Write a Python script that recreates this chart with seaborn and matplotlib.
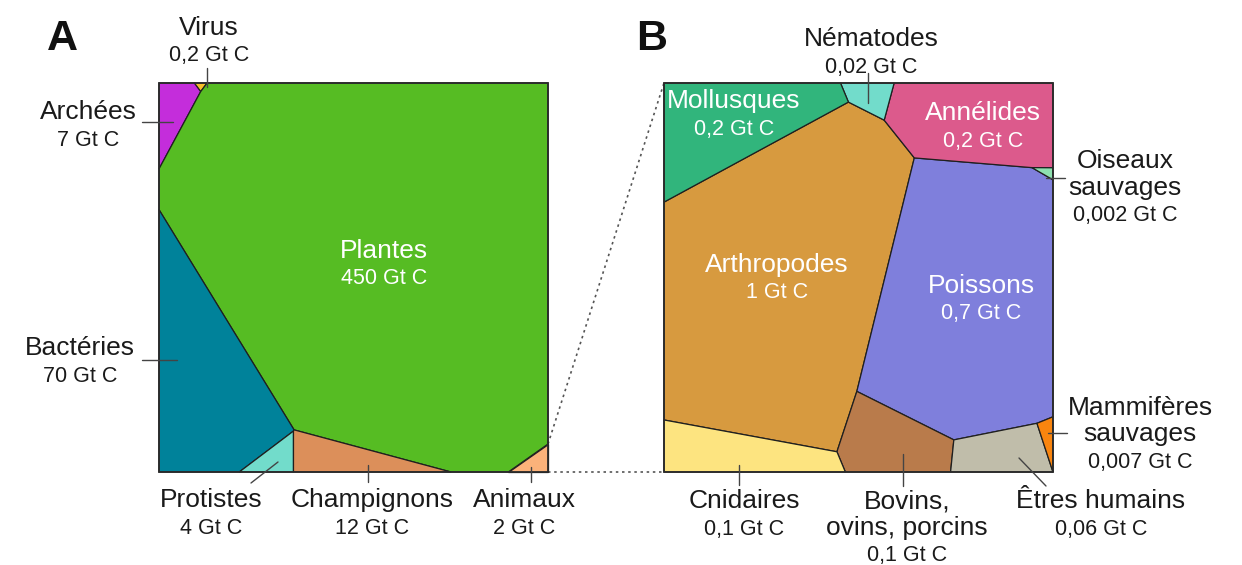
import numpy as np
import matplotlib
matplotlib.use("Agg")
import matplotlib.pyplot as plt
import seaborn as sns

# A : biomasse des règnes (Gt C)
names_a = ["Virus", "Archées", "Plantes", "Bactéries", "Protistes", "Champignons", "Animaux"]
values_a = [0.2, 7, 450, 70, 4, 12, 2]

# B : détail des animaux (Gt C)
names_b = ["Arthropodes", "Poissons", "Annélides", "Nématodes", "Mollusques",
           "Oiseaux\nsauvages", "Bovins,\novins, porcins", "Cnidaires",
           "Êtres humains", "Mammifères\nsauvages"]
values_b = [1, 0.7, 0.2, 0.02, 0.2, 0.002, 0.1, 0.1, 0.06, 0.007]

colors_a = ["#f7c02a", "#c42ddb", "#56bc23", "#00829a", "#72dccb", "#dc8f5a", "#fbb27a"]
colors_b = ["#d79a3f", "#7f7fdc", "#dc5a8c", "#72dccb", "#31b57c",
            "#8ee0b0", "#b97b4b", "#fde480", "#c0bdaa", "#f9850f"]

# germes du diagramme de puissance (fraction du carré, y vers le bas)
seeds_a = [(0.118, 0.103), (0.039, 0.162), (0.607, 0.468), (0.100, 0.779),
           (0.242, 0.967), (0.473, 0.967), (0.964, 0.974)]
seeds_b = [(0.2853, 0.5064), (0.7866, 0.6298), (0.8329, 0.0694), (0.5450, -0.0077),
           (0.1054, 0.1748), (0.8290, 0.5566), (0.7686, 0.6658), (0.2134, 0.8972),
           (0.7943, 0.6684), (0.8013, 0.6661)]

# position des étiquettes : (x, ligne de base, blanc?, trait)
labels_a = [(209, 35, False, ((206.5, 68), (206.5, 87))),
            (88, 119, False, ((142, 122), (173, 122))),
            (384, 258, True, None),
            (80, 355, False, ((142, 360), (177, 360))),
            (211, 507, False, ((251, 483), (278, 462))),
            (372, 507, False, ((368, 465), (368, 482))),
            (524, 507, False, ((531, 467), (531, 482)))]
labels_b = [(777, 272, True, None),
            (981, 293, True, None),
            (983, 120, True, None),
            (871, 46, False, ((868, 73), (868, 103))),
            (734, 108, True, None),
            (1125, 168, False, ((1046, 178), (1065, 178))),
            (907, 508, False, ((903, 454), (903, 486))),
            (744, 508, False, ((739, 465), (739, 485))),
            (1101, 508, False, ((1019, 458), (1046, 486))),
            (1140, 415, False, ((1048, 433), (1067, 433)))]


def clip(poly, labs, a, b, lab):
    out, outl = [], []
    n = len(poly)
    for k in range(n):
        p = poly[k]
        q = poly[(k + 1) % n]
        fp = a[0] * p[0] + a[1] * p[1] - b
        fq = a[0] * q[0] + a[1] * q[1] - b
        if fp <= 0:
            out.append(p)
            outl.append(labs[k])
            if fq > 0:
                t = fp / (fp - fq)
                out.append((p[0] + t * (q[0] - p[0]), p[1] + t * (q[1] - p[1])))
                outl.append(lab)
        elif fq <= 0:
            t = fp / (fp - fq)
            out.append((p[0] + t * (q[0] - p[0]), p[1] + t * (q[1] - p[1])))
            outl.append(labs[k])
    return out, outl


def power_cells(s, w):
    cells = []
    for i in range(len(s)):
        poly = [(0.0, 0.0), (1.0, 0.0), (1.0, 1.0), (0.0, 1.0)]
        labs = [-1] * 4
        for j in range(len(s)):
            if j == i or not poly:
                continue
            a = 2 * (s[j] - s[i])
            b = s[j] @ s[j] - s[i] @ s[i] - w[j] + w[i]
            poly, labs = clip(poly, labs, a, b, j)
        cells.append((poly, labs))
    return cells


def areas(cells):
    res = []
    for poly, _ in cells:
        if len(poly) < 3:
            res.append(0.0)
            continue
        p = np.array(poly)
        x, y = p[:, 0], p[:, 1]
        res.append(0.5 * abs(np.dot(x, np.roll(y, -1)) - np.dot(y, np.roll(x, -1))))
    return np.array(res)


def hessian(cells, s):
    n = len(s)
    H = np.zeros((n, n))
    for i, (poly, labs) in enumerate(cells):
        for k in range(len(poly)):
            j = labs[k]
            if j < 0:
                continue
            p, q = np.array(poly[k]), np.array(poly[(k + 1) % len(poly)])
            c = np.linalg.norm(q - p) / (2 * np.linalg.norm(s[i] - s[j]))
            H[i, j] -= c
            H[i, i] += c
    return H


def treemap(seeds, values):
    s = np.array(seeds, dtype=float)
    target = np.array(values, dtype=float) / sum(values)
    w = np.zeros(len(s))
    cells = power_cells(s, w)
    area = areas(cells)
    for _ in range(200):
        err = target - area
        if np.abs(err).max() < 1e-11:
            break
        H = hessian(cells, s)
        dw = np.zeros(len(s))
        dw[1:] = np.linalg.lstsq(H[1:, 1:], err[1:], rcond=None)[0]
        alpha = 1.0
        while alpha > 1e-8:
            w_new = w + alpha * dw
            c_new = power_cells(s, w_new)
            a_new = areas(c_new)
            if a_new.min() > 0.5 * target.min() and \
                    np.abs(target - a_new).sum() < np.abs(err).sum() * (1 - alpha / 4):
                break
            alpha /= 2
        w, cells, area = w_new, c_new, a_new
    print(np.abs(target - area).max())
    return cells


def fmt(v):
    return f"{v:g}".replace(".", ",") + " Gt C"


sns.set_theme(style="white")
plt.rcParams["font.family"] = ["Liberation Sans", "DejaVu Sans"]

fig = plt.figure(figsize=(12.42, 5.65), dpi=100)
ax = fig.add_axes([0, 0, 1, 1])
ax.set_xlim(0, 1242)
ax.set_ylim(565, 0)
ax.axis("off")

panels = [(159, 83, names_a, values_a, colors_a, seeds_a, labels_a),
          (664, 83, names_b, values_b, colors_b, seeds_b, labels_b)]
size = 389
all_cells = []
for x0, y0, names, values, colors, seeds, labels in panels:
    cells = treemap(seeds, values)
    all_cells.append(cells)
    for (poly, _), col in zip(cells, colors):
        p = np.array(poly)
        ax.fill(x0 + p[:, 0] * size, y0 + p[:, 1] * size, facecolor=col,
                edgecolor="#1f1f1f", linewidth=0.9, zorder=2)
    ax.add_patch(plt.Rectangle((x0, y0), size, size, fill=False,
                               edgecolor="#2a2a2a", linewidth=1.3, zorder=3))
    for name, v, (lx, base, white, lead) in zip(names, values, labels):
        col = "white" if white else "#1a1a1a"
        lines = name.split("\n")
        for k, line in enumerate(lines):
            ax.text(lx, base + 26.5 * k, line, ha="center", va="baseline",
                    fontsize=19, color=col, zorder=5)
        ax.text(lx, base + 26.5 * len(lines), fmt(v), ha="center", va="baseline",
                fontsize=15.5, color=col, zorder=5)
        if lead is not None:
            ax.plot([lead[0][0], lead[1][0]], [lead[0][1], lead[1][1]],
                    color="#444444", linewidth=1.0, zorder=4)

# lignes pointillées entre la cellule Animaux et le panneau B
anim = np.array(all_cells[0][names_a.index("Animaux")][0])
right = anim[anim[:, 0] > 0.999]
top_v = right[:, 1].min()
xa, ya = panels[0][0], panels[0][1]
xb, yb = panels[1][0], panels[1][1]
ax.plot([xa + size, xb], [ya + top_v * size, yb], color="#555555",
        linestyle=(0, (1.5, 2.2)), linewidth=1.2, zorder=1)
ax.plot([xa + size, xb], [ya + size, yb + size], color="#555555",
        linestyle=(0, (1.5, 2.2)), linewidth=1.2, zorder=1)

ax.text(47, 50, "A", fontsize=31, fontweight="bold", color="#111111", va="baseline")
ax.text(636, 50, "B", fontsize=31, fontweight="bold", color="#111111", va="baseline")

fig.savefig("out.png", dpi=100)
